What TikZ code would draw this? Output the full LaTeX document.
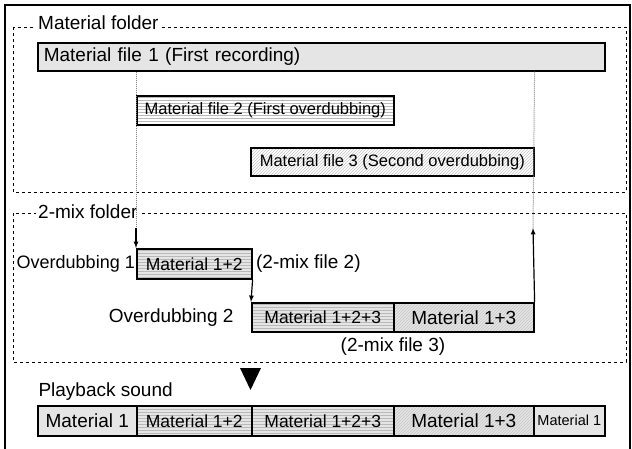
\documentclass[tikz,border=0pt]{standalone}
\usepackage{fontspec}
\setmainfont{Liberation Sans}
\usetikzlibrary{patterns}
\newcommand{\fs}[1]{\fontsize{#1}{#1}\selectfont}
\begin{document}
\begin{tikzpicture}[x=1pt, y=-1pt,
        box/.style={draw, line width=1.6pt, inner sep=0pt, anchor=north west, font=\fs{17.5}},
        plain/.style={box, fill=gray!20},
        hlines/.style={box, pattern=horizontal lines, pattern color=gray!55},
        dlines/.style={box, pattern=north east lines, pattern color=gray!45},
        folder/.style={draw, dashed, line width=0.6pt},
        guide/.style={draw, densely dotted, gray, line width=1pt},
        flow/.style={draw, line width=1.2pt, -latex},
        lbl/.style={fill=white, inner sep=2pt, font=\fs{19}},
    ]
    \useasboundingbox (0,0) rectangle (632,449);
    % outer frame
    \draw[line width=1.6pt] (5,449) -- (5,5) -- (630,5) -- (630,449);

    % material folder
    \draw[folder] (13,27) rectangle (626,192);
    \node[lbl, anchor=west] (matlbl) at (36,23) {Material folder};
    \node[plain, minimum width=567pt, minimum height=28pt, font=\fs{19}, align=left, text width=555pt] (file1) at (37,42) {Material file 1 (First recording)};
    \node[hlines, minimum width=257pt, minimum height=29pt, font=\fs{16.5}] (file2) at (136,95) {Material file 2 (First overdubbing)};
    \node[dlines, minimum width=283pt, minimum height=28pt, font=\fs{16.5}] (file3) at (250,147) {Material file 3 (Second overdubbing)};

    % 2-mix folder
    \draw[folder] (13,213) rectangle (626,362);
    \node[lbl, anchor=west] (mixlbl) at (36,212) {2-mix folder};
    \node[box, fill=gray!20, minimum width=115pt, minimum height=30pt] (mix2f) at (136,248) {};
    \node[hlines, minimum width=115pt, minimum height=30pt] (mix2) at (136,248) {Material 1+2};
    \node[anchor=east, font=\fs{18}, inner sep=1pt] (ov1) at (mix2.west) {Overdubbing 1};
    \node[anchor=west, font=\fs{19}] (mf2) at (mix2.east) {(2-mix file 2)};
    \node[box, fill=gray!20, minimum width=142pt, minimum height=29pt] (mixa) at (251,302) {};
    \node[hlines, minimum width=142pt, minimum height=29pt] (mix3a) at (251,302) {Material 1+2+3};
    \node[box, fill=gray!20, minimum width=140pt, minimum height=29pt] (mixb) at (393,302) {};
    \node[dlines, minimum width=140pt, minimum height=29pt, font=\fs{19}] (mix3b) at (393,302) {Material 1+3};
    \node[anchor=east, font=\fs{19}] (ov2) at ([xshift=-14pt]mix3a.west) {Overdubbing 2};
    \node[font=\fs{19}] (mf3) at (393,347) {(2-mix file 3)};

    % connectors
    \coordinate (d1) at (136,228);
    \coordinate (u1) at (533,228);
    \draw[guide] (file1.south west -| file2.north west) -- (d1);
    \draw[guide] (file1.south -| file3.east) -- (u1);
    \draw[flow] (d1) -- (mix2.north west);
    \draw[flow] (mix2.south east) -- (mix3a.north west);
    \draw[flow] (mix3b.north east) -- (u1);

    % playback
    \fill (240,368) -- (261,368) -- (250.5,390) -- cycle;
    \node[anchor=west, font=\fs{19}] (play) at (35,392) {Playback sound};
    \node[plain, minimum width=99pt, minimum height=30pt, font=\fs{19}] (p1) at (37,405) {Material 1};
    \node[box, fill=gray!20, minimum width=115pt, minimum height=30pt] (p2f) at (136,405) {};
    \node[hlines, minimum width=115pt, minimum height=30pt] (p2) at (136,405) {Material 1+2};
    \node[box, fill=gray!20, minimum width=142pt, minimum height=30pt] (p3f) at (251,405) {};
    \node[hlines, minimum width=142pt, minimum height=30pt] (p3) at (251,405) {Material 1+2+3};
    \node[box, fill=gray!20, minimum width=140pt, minimum height=30pt] (p4f) at (393,405) {};
    \node[dlines, minimum width=140pt, minimum height=30pt, font=\fs{19}] (p4) at (393,405) {Material 1+3};
    \node[plain, minimum width=71pt, minimum height=30pt, font=\fs{14.5}] (p5) at (533,405) {Material 1};
\end{tikzpicture}
\end{document}
